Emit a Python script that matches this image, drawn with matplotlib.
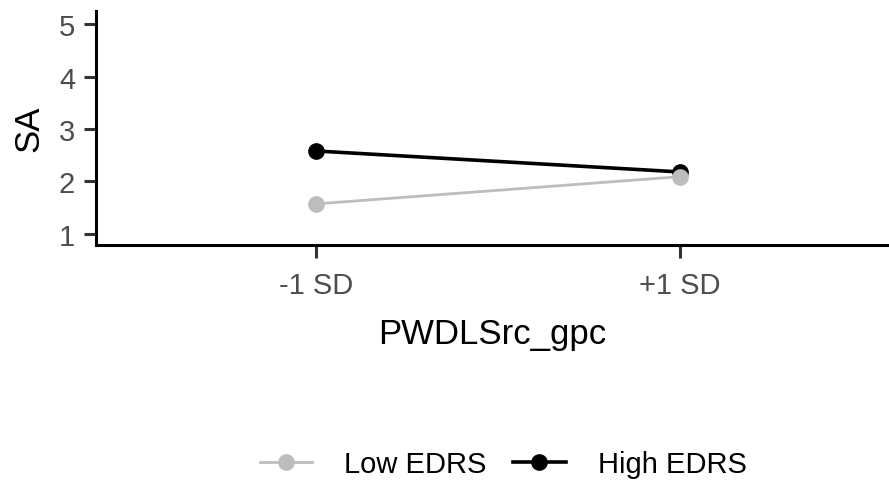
import matplotlib
matplotlib.use('Agg')
import matplotlib.pyplot as plt

plt.rcParams['font.family'] = ['Liberation Sans', 'DejaVu Sans']

# simple slopes: SA by PWDLSrc_gpc at two levels of EDRS
x_labels = ['-1 SD', '+1 SD']
x_pos = [1, 2]
low_edrs = [1.57, 2.09]
high_edrs = [2.58, 2.18]
series_names = ['Low EDRS', 'High EDRS']
series_colors = ['#bdbdbd', '#000000']

fig = plt.figure(figsize=(8.89, 4.81), dpi=100)
ax = fig.add_axes([0.108, 0.489, 0.892, 0.486])

# gray series sits on top of the black one where they meet
ax.plot(x_pos, low_edrs, color=series_colors[0], lw=2.0, marker='o', ms=11, label=series_names[0], zorder=3)
ax.plot(x_pos, high_edrs, color=series_colors[1], lw=2.6, marker='o', ms=11, label=series_names[1], zorder=2)

ax.set_xlim(0.396, 2.574)
ax.set_ylim(0.79, 5.25)
ax.set_yticks([1, 2, 3, 4, 5])
ax.set_xticks(x_pos)
ax.set_xticklabels(x_labels)

for s in ['top', 'right']:
    ax.spines[s].set_visible(False)
for s in ['left', 'bottom']:
    ax.spines[s].set_linewidth(2.2)
ax.tick_params(axis='both', length=9, width=2.2, colors='#333333', labelcolor='#4d4d4d', labelsize=21)
ax.tick_params(axis='y', pad=6)
ax.tick_params(axis='x', pad=10)

ax.set_xlabel('PWDLSrc_gpc', fontsize=25, labelpad=13)
ax.set_ylabel('SA', fontsize=25, labelpad=10)

fig.legend(loc='center', bbox_to_anchor=(0.566, 0.033), ncol=2, frameon=False,
           fontsize=21, handlelength=1.8, columnspacing=0.9, handletextpad=1.1)

fig.savefig('out.png', dpi=100)
